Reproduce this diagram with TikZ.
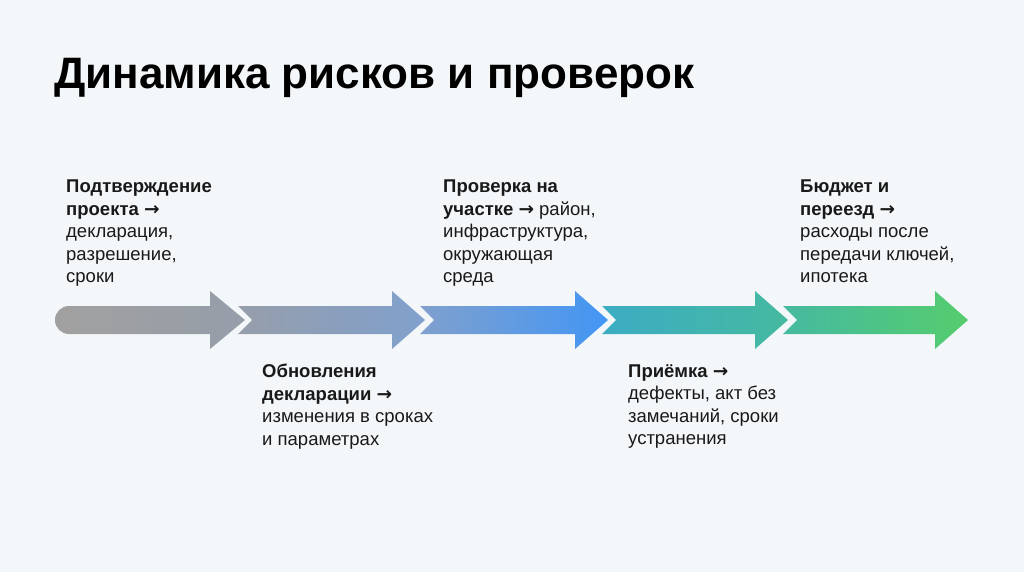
\documentclass[tikz,border=0pt]{standalone}
\usepackage{fontspec}
\setmainfont{Liberation Sans}
\newfontfamily\arrfont{DejaVu Sans}
\newcommand{\ar}{{\arrfont →}}
\begin{document}
\begin{tikzpicture}[x=1pt,y=-1pt,
  lbl/.style={anchor=north west,inner sep=0pt,align=left,font=\fontsize{18.5}{22.5}\selectfont,text=black!90}]
\useasboundingbox[fill={rgb,255:red,243;green,247;blue,249}] (0,0) rectangle (1024,572);
\definecolor{c0}{RGB}{160,160,160}
\definecolor{c1}{RGB}{150,158,170}
\definecolor{c2}{RGB}{128,160,205}
\definecolor{c3}{RGB}{66,150,245}
\definecolor{c4}{RGB}{60,172,195}
\definecolor{c5}{RGB}{70,185,160}
\definecolor{c6}{RGB}{85,205,110}
\node[anchor=west,inner sep=0pt,font=\fontsize{44}{48}\selectfont\bfseries] (title) at (54,78) {Динамика рисков и проверок};
\fill[c0] (69,320) circle[radius=14];
\shade[left color=c0,right color=c1] (69,306) -- (210,306) -- (210,291) -- (245,320) -- (210,349) -- (210,334) -- (69,334) -- cycle;
\foreach \s/\b/\t/\ca/\cb in {238/392/425/c1/c2, 420/575/608/c2/c3, 602/755/788/c4/c5, 783/935/968/c5/c6}{
  \shade[left color=\ca,right color=\cb] (\s,306) -- (\b,306) -- (\b,291) -- (\t,320) -- (\b,349) -- (\b,334) -- (\s,334) -- (\s+14,320) -- cycle;
}
\node[lbl] (t1) at (66,180) {\textbf{Подтверждение}\\\textbf{проекта \ar}\\декларация,\\разрешение,\\сроки};
\node[lbl] (t2) at (262,364) {\textbf{Обновления}\\\textbf{декларации \ar}\\изменения в сроках\\и параметрах};
\node[lbl] (t3) at (443,180) {\textbf{Проверка на}\\\textbf{участке \ar} район,\\инфраструктура,\\окружающая\\среда};
\node[lbl] (t4) at (628,364) {\textbf{Приёмка \ar}\\дефекты, акт без\\замечаний, сроки\\устранения};
\node[lbl] (t5) at (800,180) {\textbf{Бюджет и}\\\textbf{переезд \ar}\\расходы после\\передачи ключей,\\ипотека};
\end{tikzpicture}
\end{document}
